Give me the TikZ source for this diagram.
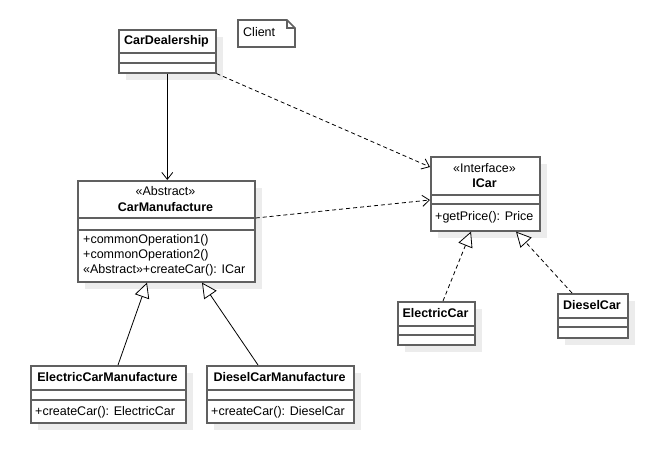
\documentclass[tikz,border=0pt]{standalone}
\usepackage{fontspec}
\setmainfont{Liberation Sans}
\usetikzlibrary{arrows.meta,shadows,calc}
\definecolor{bordergray}{RGB}{96,96,96}
\definecolor{shadowgray}{RGB}{236,236,236}
\tikzset{
  cls/.style={draw=bordergray, line width=1.6pt, fill=white, inner sep=0pt, anchor=north west,
    general shadow={shadow xshift=7pt, shadow yshift=-7pt, fill=shadowgray}},
  divl/.style={draw=bordergray, line width=1.6pt},
  txt/.style={inner sep=0pt, font=\fontsize{12.5}{14}\selectfont},
  ttl/.style={txt, font=\fontsize{12.5}{14}\selectfont\bfseries},
  mth/.style={txt, anchor=west},
  conn/.style={draw=black, line width=0.8pt},
  dep/.style={conn, dash pattern=on 4pt off 3pt, -{Straight Barb[length=7pt,width=11pt]}},
  assoc/.style={conn, -{Straight Barb[length=7pt,width=11pt]}},
  gen/.style={conn, -{Triangle[open, length=15pt, width=15pt, fill=white]}},
  real/.style={gen, dash pattern=on 4pt off 3pt},
}
\begin{document}
\begin{tikzpicture}[x=1pt,y=-1pt]
\useasboundingbox (0,0) rectangle (655,457);
% CarDealership
\node[cls, minimum width=97pt, minimum height=43pt] (dealer) at (118,29) {};
\draw[divl] (118,53) -- (215,53); \draw[divl] (118,63) -- (215,63);
\node[ttl] (dealerT) at (166.5,41) {CarDealership};
% Client note
\node[txt, anchor=west] (client) at (243,32) {Client};
\draw[draw=bordergray, line width=1.6pt] (238,20) -- (287,20) -- (295,28) -- (295,47) -- (238,47) -- cycle;
\draw[draw=bordergray, line width=1.1pt] (287,20) -- (287,28) -- (295,28);
% CarManufacture
\node[cls, minimum width=177pt, minimum height=101pt] (manu) at (77,180) {};
\draw[divl] (77,218) -- (254,218); \draw[divl] (77,230) -- (254,230);
\node[txt] (manuS) at (165.5,191) {«Abstract»};
\node[ttl] (manuT) at (165.5,207) {CarManufacture};
\node[mth] (manuM1) at (83,240) {+commonOperation1()};
\node[mth] (manuM2) at (83,255) {+commonOperation2()};
\node[mth] (manuM3) at (83,270) {«Abstract»+createCar(): ICar};
% ICar
\node[cls, minimum width=109pt, minimum height=74pt] (icar) at (430,156) {};
\draw[divl] (430,195) -- (539,195); \draw[divl] (430,204) -- (539,204);
\node[txt] (icarS) at (484.5,168) {«Interface»};
\node[ttl] (icarT) at (484.5,183) {ICar};
\node[mth] (icarM) at (435,217) {+getPrice(): Price};
% ElectricCarManufacture
\node[cls, minimum width=155pt, minimum height=57pt] (ecm) at (30,365) {};
\draw[divl] (30,390) -- (185,390); \draw[divl] (30,400) -- (185,400);
\node[ttl] (ecmT) at (107.5,377) {ElectricCarManufacture};
\node[mth] (ecmM) at (35,412) {+createCar(): ElectricCar};
% DieselCarManufacture
\node[cls, minimum width=147pt, minimum height=57pt] (dcm) at (206,365) {};
\draw[divl] (206,390) -- (353,390); \draw[divl] (206,400) -- (353,400);
\node[ttl] (dcmT) at (279.5,377) {DieselCarManufacture};
\node[mth] (dcmM) at (211,412) {+createCar(): DieselCar};
% ElectricCar
\node[cls, minimum width=77pt, minimum height=43pt] (ecar) at (397,301) {};
\draw[divl] (397,326) -- (474,326); \draw[divl] (397,335) -- (474,335);
\node[ttl] (ecarT) at (435.5,313) {ElectricCar};
% DieselCar
\node[cls, minimum width=70pt, minimum height=44pt] (dcar) at (557,293) {};
\draw[divl] (557,318) -- (627,318); \draw[divl] (557,327) -- (627,327);
\node[ttl] (dcarT) at (592,305) {DieselCar};
% connectors
\draw[assoc] (dealer.south) -- (dealer.south |- manu.north);
\draw[dep] (dealer.south east) -- ($(icar.north west)+(0,11)$);
\draw[dep] ($(manu.north east)+(0,38)$) -- ($(icar.north west)+(0,44)$);
\draw[gen] ($(ecm.north west)+(88,0)$) -- ($(manu.south west)+(70,0)$);
\draw[gen] ($(dcm.north west)+(52,0)$) -- ($(manu.south west)+(125,0)$);
\draw[real] ($(ecar.north west)+(46,0)$) -- ($(icar.south west)+(41,0)$);
\draw[real] ($(dcar.north west)+(15,0)$) -- ($(icar.south west)+(86,0)$);
\end{tikzpicture}
\end{document}
